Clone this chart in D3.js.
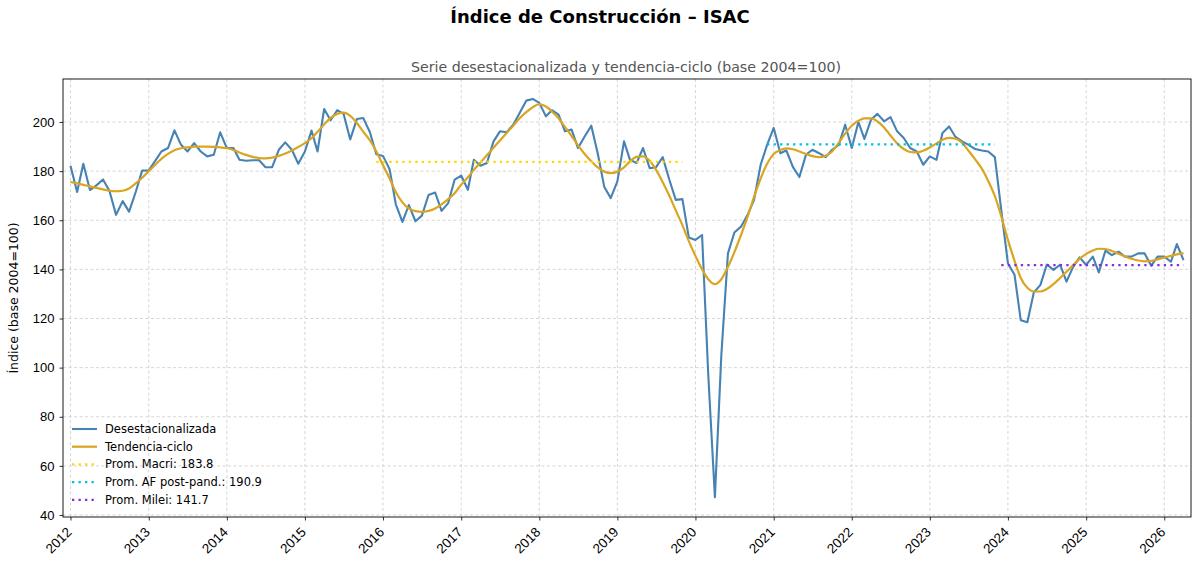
<!DOCTYPE html>
<html><head><meta charset="utf-8">
<script src="https://cdn.jsdelivr.net/npm/d3@7"></script>
<style>body{margin:0;background:#fff} svg{display:block;font-family:"DejaVu Sans",sans-serif}</style>
</head><body><svg id="c" width="1200" height="569"></svg>
<script>
// ---- data (monthly, starting Jan 2012) ----
const startYear = 2012;
const desestacionalizada = [
  182.2, 171.5, 183.0, 172.3, 174.2, 176.6, 172.0, 162.2, 167.8, 163.5, 171.5, 180.2, // 2012
  180.3, 184.3, 188.0, 189.4, 196.6, 190.7, 188.0, 191.4, 188.0, 186.0, 186.7, 195.8, // 2013
  189.4, 189.4, 184.6, 184.2, 184.4, 184.4, 181.6, 181.6, 188.7, 191.7, 188.7, 183.0, // 2014
  188.0, 196.5, 188.0, 205.3, 200.7, 204.8, 203.3, 192.9, 201.2, 201.6, 195.8, 186.9, // 2015
  186.2, 180.8, 166.5, 159.3, 166.2, 159.6, 161.9, 170.3, 171.3, 163.8, 167.0, 176.5, // 2016
  178.2, 172.4, 184.6, 182.2, 183.3, 192.1, 196.2, 195.8, 198.9, 203.7, 208.7, 209.4, // 2017
  207.8, 202.3, 204.8, 203.0, 196.2, 196.9, 189.4, 194.1, 198.5, 187.3, 173.5, 169.0, // 2018
  175.8, 192.1, 184.6, 183.3, 189.4, 181.2, 181.6, 185.7, 176.5, 168.3, 168.6, 153.0, // 2019
  152.0, 154.0,  97.0,  47.3, 105.0, 146.5, 155.0, 157.4, 162.2, 168.3, 182.6, 190.7, // 2020
  197.6, 187.3, 188.4, 181.6, 177.6, 186.7, 188.7, 187.3, 185.7, 188.7, 190.7, 198.9, // 2021
  189.4, 200.0, 193.1, 201.0, 203.3, 200.3, 202.0, 196.2, 193.5, 189.4, 188.0, 182.6, // 2022
  186.0, 184.6, 195.5, 198.2, 193.9, 192.1, 190.7, 189.0, 188.4, 188.0, 185.7, 164.0, // 2023
  142.5, 137.8, 119.3, 118.5, 130.6, 133.7, 142.0, 139.8, 141.9, 135.0, 141.0, 144.9, // 2024
  141.8, 145.2, 138.8, 147.6, 145.8, 147.2, 145.2, 145.2, 146.5, 146.5, 141.5, 145.2, // 2025
  145.2, 143.1, 150.3, 143.8                                                          // 2026
];
const tendenciaCiclo = [
  175.6, 175.0, 174.4, 173.8, 173.2, 172.6, 172.0, 171.8, 172.0, 172.9, 175.0, 177.3, // 2012
  180.0, 182.6, 185.0, 187.0, 188.5, 189.3, 189.7, 190.0, 190.0, 190.0, 189.9, 189.7, // 2013
  189.3, 188.6, 187.6, 186.6, 185.8, 185.3, 185.2, 185.5, 186.2, 187.2, 188.4, 189.8, // 2014
  191.4, 193.4, 196.0, 199.0, 201.7, 203.3, 203.8, 202.5, 199.6, 196.0, 192.5, 188.0, // 2015
  182.5, 177.0, 171.5, 167.3, 164.8, 163.7, 163.4, 163.8, 164.8, 166.5, 168.6, 171.0, // 2016
  174.5, 177.5, 180.5, 183.5, 186.5, 189.5, 192.5, 195.5, 198.5, 201.5, 204.0, 206.0, // 2017
  207.3, 206.3, 204.3, 201.5, 198.0, 194.3, 190.5, 187.0, 184.0, 181.5, 179.8, 179.2, // 2018
  179.8, 181.5, 184.0, 185.8, 186.0, 184.2, 180.5, 175.5, 170.0, 164.0, 158.0, 151.5, // 2019
  145.5, 140.0, 136.0, 134.0, 136.0, 141.0, 147.0, 154.0, 161.5, 169.5, 177.0, 183.0, // 2020
  187.0, 188.6, 189.3, 188.9, 188.0, 187.0, 186.1, 185.7, 186.3, 188.0, 191.5, 195.3, // 2021
  198.5, 200.5, 201.5, 201.5, 200.2, 197.8, 194.5, 191.3, 189.0, 187.8, 187.6, 188.3, // 2022
  189.6, 191.3, 192.8, 193.5, 193.2, 191.5, 188.3, 184.8, 181.0, 176.0, 169.8, 161.6, // 2023
  152.0, 143.5, 136.5, 132.5, 131.0, 131.0, 132.0, 134.0, 136.5, 139.0, 141.8, 144.3, // 2024
  146.3, 147.7, 148.4, 148.3, 147.5, 146.4, 145.3, 144.3, 143.6, 143.3, 143.5, 144.1, // 2025
  144.8, 145.5, 146.1, 146.6                                                          // 2026
];
const avgNames  = ["Prom. Macri", "Prom. AF post-pand.", "Prom. Milei"];
const avgValues = [183.8, 190.9, 141.7];
const avgStart  = ["2015-12", "2020-12", "2023-12"];
const avgEnd    = ["2019-11", "2023-11", "2026-04"];
const yTicks = [40, 60, 80, 100, 120, 140, 160, 180, 200];
const xTickYears = d3.range(2012, 2027);

// ---- layout ----
const svg = d3.select("#c");
const m = {l: 63, r: 1191, t: 79, b: 517};
const dates = desestacionalizada.map((_, i) => new Date(startYear, i, 1));
const parseM = d3.timeParse("%Y-%m");
const x = d3.scaleTime()
  .domain([d3.timeDay.offset(dates[0], -35), d3.timeDay.offset(dates[dates.length - 1], 35)])
  .range([m.l, m.r]);
const all = desestacionalizada.concat(tendenciaCiclo);
const lo = d3.min(all), hi = d3.max(all), pad = (hi - lo) * 0.05;
const y = d3.scaleLinear().domain([lo - pad, hi + pad]).range([m.b, m.t]);

const colBlue = "#4682b4", colOrange = "#daa520";
const avgColors = ["#ffd700", "#00bfe6", "#8a2be2"];

// grid
const g = svg.append("g");
g.selectAll(".gy").data(yTicks).join("line")
  .attr("x1", m.l).attr("x2", m.r).attr("y1", d => y(d)).attr("y2", d => y(d))
  .attr("stroke", "#cccccc").attr("stroke-width", 0.8).attr("stroke-dasharray", "3,2.5");
g.selectAll(".gx").data(xTickYears).join("line")
  .attr("x1", d => x(new Date(d, 0, 1))).attr("x2", d => x(new Date(d, 0, 1)))
  .attr("y1", m.t).attr("y2", m.b)
  .attr("stroke", "#cccccc").attr("stroke-width", 0.8).attr("stroke-dasharray", "3,2.5");

// lines
const line = d3.line().x((d, i) => x(dates[i])).y(d => y(d));
svg.append("clipPath").attr("id", "cp").append("rect")
  .attr("x", m.l).attr("y", m.t).attr("width", m.r - m.l).attr("height", m.b - m.t);
const pg = svg.append("g").attr("clip-path", "url(#cp)");
pg.append("path").datum(desestacionalizada).attr("d", line)
  .attr("fill", "none").attr("stroke", colBlue).attr("stroke-width", 2.1).attr("stroke-linejoin", "round");
pg.append("path").datum(tendenciaCiclo).attr("d", line.curve(d3.curveMonotoneX))
  .attr("fill", "none").attr("stroke", colOrange).attr("stroke-width", 2.2).attr("stroke-linejoin", "round");
avgValues.forEach((v, k) => {
  pg.append("line")
    .attr("x1", x(parseM(avgStart[k]))).attr("x2", x(parseM(avgEnd[k])))
    .attr("y1", y(v)).attr("y2", y(v))
    .attr("stroke", avgColors[k]).attr("stroke-width", 2.3).attr("stroke-dasharray", "2.3,4.2");
});

// axes
const ax = svg.append("g").attr("transform", `translate(0,${m.b})`)
  .call(d3.axisBottom(x).tickValues(xTickYears.map(d => new Date(d, 0, 1))).tickFormat(d3.timeFormat("%Y")).tickSize(3.5).tickSizeOuter(0));
ax.select(".domain").remove();
ax.selectAll("text").attr("x", 0).attr("y", 0).attr("dy", null)
  .attr("transform", "translate(1.5,16) rotate(-45)").attr("text-anchor", "end")
  .style("font-size", "13.5px").attr("fill", "#000");
ax.selectAll("line").attr("stroke", "#000").attr("stroke-width", 0.8);

const ay = svg.append("g").attr("transform", `translate(${m.l},0)`)
  .call(d3.axisLeft(y).tickValues(yTicks).tickSize(3.5).tickPadding(5));
ay.select(".domain").remove();
ay.selectAll("text").style("font-size", "13px").attr("fill", "#000");
ay.selectAll("line").attr("stroke", "#000").attr("stroke-width", 0.8);

svg.append("rect").attr("x", m.l).attr("y", m.t).attr("width", m.r - m.l).attr("height", m.b - m.t)
  .attr("fill", "none").attr("stroke", "#000").attr("stroke-width", 0.9);

// titles
svg.append("text").attr("x", 600).attr("y", 23).attr("text-anchor", "middle")
  .style("font-size", "18px").style("font-weight", "bold").text("Índice de Construcción – ISAC");
svg.append("text").attr("x", 626).attr("y", 72).attr("text-anchor", "middle")
  .style("font-size", "14.2px").attr("fill", "#555").text("Serie desestacionalizada y tendencia-ciclo (base 2004=100)");
svg.append("text").attr("transform", `translate(18,${(m.t + m.b) / 2}) rotate(-90)`).attr("text-anchor", "middle")
  .style("font-size", "12.5px").text("Índice (base 2004=100)");

// legend
const legItems = [
  {name: "Desestacionalizada", color: colBlue, dash: null, w: 2.1},
  {name: "Tendencia-ciclo", color: colOrange, dash: null, w: 2.2},
  ...avgNames.map((n, k) => ({name: `${n}: ${avgValues[k].toFixed(1)}`, color: avgColors[k], dash: "2.3,4.2", w: 2.3}))
];
const lg = svg.append("g");
legItems.forEach((it, i) => {
  const yy = 429 + i * 17.7;
  lg.append("line").attr("x1", 72).attr("x2", 97).attr("y1", yy).attr("y2", yy)
    .attr("stroke", it.color).attr("stroke-width", it.w).attr("stroke-dasharray", it.dash);
  lg.append("text").attr("x", 105).attr("y", yy).attr("dy", "0.35em")
    .style("font-size", "11.5px").text(it.name);
});
</script></body></html>
